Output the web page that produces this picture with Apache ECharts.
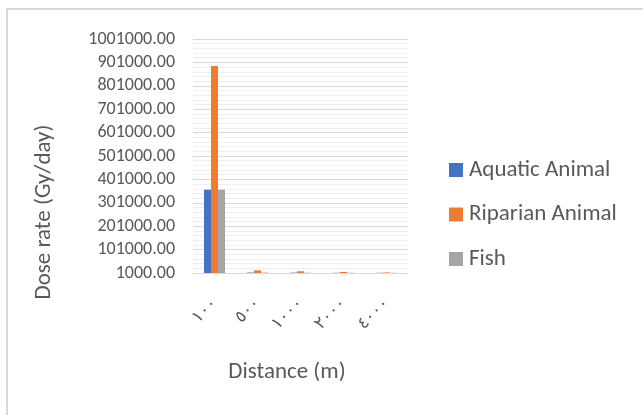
<!DOCTYPE html>
<html>
<head>
<meta charset="utf-8">
<script src="https://cdn.jsdelivr.net/npm/echarts@6/dist/echarts.min.js"></script>
<style>
html,body{margin:0;padding:0;background:#fff;}
#chart{width:643px;height:415px;}
</style>
</head>
<body>
<div id="chart"></div>
<script>
const categories = ['١٠٠', '٥٠٠', '١٠٠٠', '٢٠٠٠', '٤٠٠٠'];
const aquatic = [357000, 3000, 2500, 2000, 1800];
const riparian = [885600, 12500, 8500, 5500, 3500];
const fish = [357000, 3000, 2500, 2000, 1800];
const seriesNames = ['Aquatic Animal', 'Riparian Animal', 'Fish'];
const colors = ['#4472c4', '#ed7d31', '#a5a5a5'];
const xTitle = 'Distance (m)';
const yTitle = 'Dose rate (Gy/day)';

const chart = echarts.init(document.getElementById('chart'), null, {renderer: 'canvas'});
const font = 'Calibri, Carlito, "Liberation Sans", "Open Sans", sans-serif';
chart.setOption({
  backgroundColor: '#fff',
  animation: false,
  graphic: [{
    type: 'rect', silent: true,
    shape: {x: 7, y: 9, width: 800, height: 600},
    style: {fill: 'none', stroke: '#d9d9d9', lineWidth: 2}
  }, {
    type: 'text', silent: true, x: 44, y: 212, rotation: Math.PI / 2,
    style: {text: yTitle, font: '23px ' + font, fill: '#595959', align: 'center', verticalAlign: 'middle'}
  }, {
    type: 'text', silent: true, x: 287, y: 372,
    style: {text: xTitle, font: '23px ' + font, fill: '#595959', align: 'center', verticalAlign: 'middle'}
  }],
  grid: {left: 193, right: 235, top: 39, bottom: 142, containLabel: false},
  legend: {
    orient: 'vertical', left: 449, top: 158, itemGap: 20.5, padding: 0,
    itemWidth: 14, itemHeight: 14, icon: 'rect',
    textStyle: {fontFamily: font, fontSize: 23, lineHeight: 24, color: '#595959', padding: [0, 0, 0, 1]},
    data: seriesNames
  },
  xAxis: {
    type: 'category', data: categories,
    axisLine: {lineStyle: {color: '#d9d9d9', width: 1}},
    axisTick: {show: false},
    axisLabel: {rotate: 45, margin: 28, fontFamily: 'DejaVu Sans, sans-serif', fontSize: 17, color: '#595959'}
  },
  yAxis: {
    type: 'value', min: 1000, max: 1001000, interval: 100000,
    axisLine: {show: false}, axisTick: {show: false},
    axisLabel: {fontFamily: font, fontSize: 18, color: '#595959', margin: 18,
      formatter: v => v.toFixed(2)},
    splitLine: {lineStyle: {color: '#d9d9d9', width: 1}},
    minorTick: {show: false, splitNumber: 5},
    minorSplitLine: {show: true, lineStyle: {color: '#efefef', width: 1}}
  },
  series: [
    {name: seriesNames[0], type: 'bar', data: aquatic, itemStyle: {color: colors[0]}, barGap: '0%', barCategoryGap: '51%'},
    {name: seriesNames[1], type: 'bar', data: riparian, itemStyle: {color: colors[1]}},
    {name: seriesNames[2], type: 'bar', data: fish, itemStyle: {color: colors[2]}}
  ]
});
</script>
</body>
</html>
